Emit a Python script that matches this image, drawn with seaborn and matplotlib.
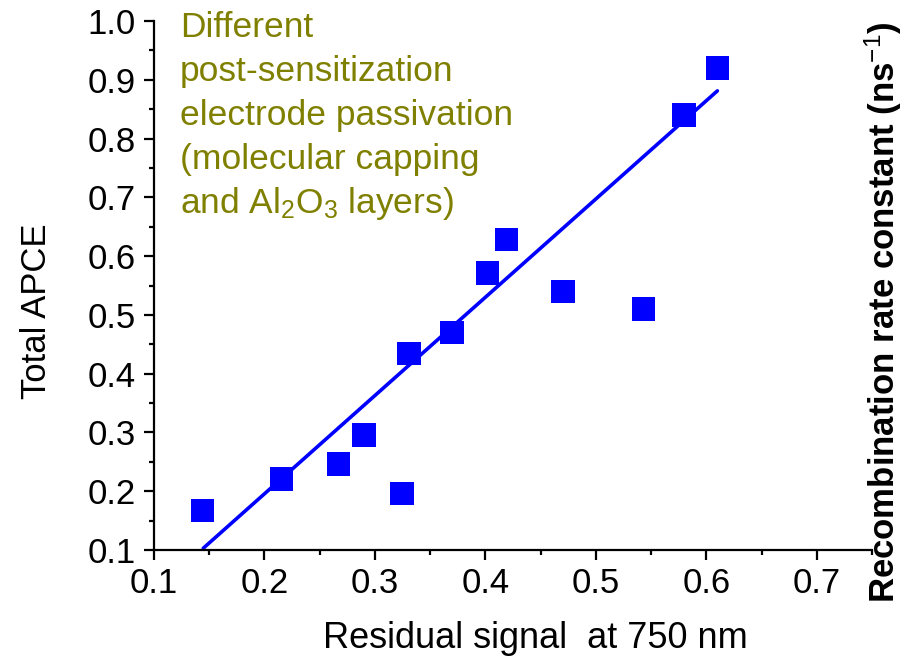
import numpy as np
import pandas as pd
import matplotlib
matplotlib.use("Agg")
import matplotlib.pyplot as plt
from matplotlib.ticker import MultipleLocator, FormatStrFormatter
import seaborn as sns

# Measured samples: residual signal at 750 nm vs. total APCE
residual_signal = [0.144, 0.2155, 0.267, 0.290, 0.3245, 0.331, 0.370, 0.402, 0.419, 0.4705, 0.543, 0.580, 0.610]
total_apce = [0.167, 0.221, 0.246, 0.296, 0.196, 0.434, 0.470, 0.571, 0.628, 0.540, 0.510, 0.840, 0.920]

# Linear trend line (slope, intercept) and the x-span it covers
fit_slope = 1.672
fit_intercept = -0.1388
fit_x_range = [0.1446, 0.610]

annotation_lines = [
    "Different",
    "post-sensitization",
    "electrode passivation",
    "(molecular capping",
    r"and Al$_2$O$_3$ layers)",
]

sns.set_theme(style="ticks")
plt.rcParams["font.family"] = ["Liberation Sans", "DejaVu Sans"]
plt.rcParams["mathtext.fontset"] = "custom"
plt.rcParams["mathtext.rm"] = "Liberation Sans"
plt.rcParams["mathtext.it"] = "Liberation Sans:italic"
plt.rcParams["mathtext.bf"] = "Liberation Sans:bold"

points = pd.DataFrame({"signal": residual_signal, "apce": total_apce})
fit_x = np.array(fit_x_range)
fit = pd.DataFrame({"signal": fit_x, "apce": fit_slope * fit_x + fit_intercept})

fig = plt.figure(figsize=(9.03, 6.58), dpi=100)
ax = fig.add_axes([154 / 903, 1 - 550 / 658, (872 - 154) / 903, (550 - 21) / 658])

sns.lineplot(data=fit, x="signal", y="apce", ax=ax, color="#0000FF", linewidth=2.6,
             zorder=2)
sns.scatterplot(data=points, x="signal", y="apce", ax=ax, marker="s", s=17 ** 2,
                color="#0000FF", edgecolor="none", linewidth=0, zorder=3)

ax.set_xlim(0.1, 0.75)
ax.set_ylim(0.1, 1.0)
ax.xaxis.set_major_locator(MultipleLocator(0.1))
ax.xaxis.set_minor_locator(MultipleLocator(0.05))
ax.yaxis.set_major_locator(MultipleLocator(0.1))
ax.yaxis.set_minor_locator(MultipleLocator(0.05))
ax.xaxis.set_major_formatter(FormatStrFormatter("%.1f"))
ax.yaxis.set_major_formatter(FormatStrFormatter("%.1f"))

for side in ("top", "right"):
    ax.spines[side].set_visible(False)
for side in ("left", "bottom"):
    ax.spines[side].set_linewidth(1.6)
    ax.spines[side].set_color("black")

ax.tick_params(axis="both", which="major", direction="out", length=7, width=1.6,
               labelsize=25, colors="black", pad=5)
ax.tick_params(axis="both", which="minor", direction="out", length=3.5, width=1.6,
               colors="black")
ax.tick_params(axis="y", which="major", pad=6)

ax.set_xlabel("Residual signal  at 750 nm", fontsize=26, color="black")
ax.xaxis.label.set_va("center")
ax.xaxis.set_label_coords((535 - 154) / 718, (550 - 638) / 529)
ax.set_ylabel("Total APCE", fontsize=25, color="black")
ax.yaxis.label.set_va("center")
ax.yaxis.set_label_coords((37 - 154) / 718, (550 - 311) / 529)

olive = "#808000"
for i, line in enumerate(annotation_lines):
    ax.text(0.1235, 0.972 - i * 0.0748, line, fontsize=25.5, color=olive,
            ha="left", va="baseline")

fig.text(895 / 903, 1 - 603 / 658, r"Recombination rate constant (ns$^{-1}$)",
         fontsize=25, fontweight="bold", color="black", rotation=90,
         rotation_mode="anchor", ha="left", va="baseline")

fig.patch.set_facecolor("white")
ax.set_facecolor("white")
fig.savefig("out.png", dpi=100, facecolor="white")
